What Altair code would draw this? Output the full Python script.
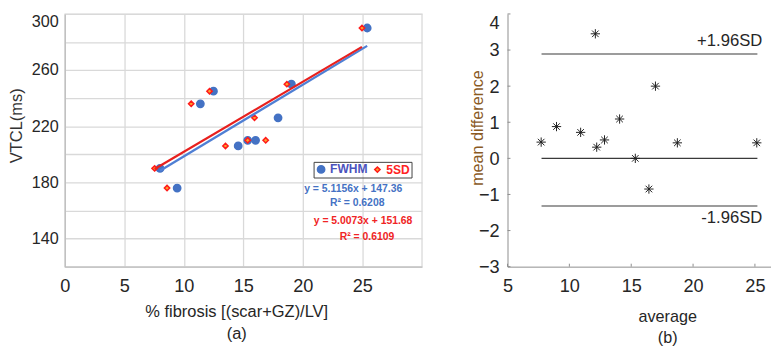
import altair as alt
import pandas as pd

FONT = "Liberation Sans"
BLUE = "#4472C4"
RED = "#FF1A1A"
ORANGE = "#FFA02A"
DARK = "#262626"
BROWN = "#8A5A1F"

# ---- panel (a) data ----
series = ["FWHM", "5SD"]
fwhm_x = [8.0, 9.44, 11.39, 12.49, 14.57, 15.37, 16.03, 17.92, 19.04, 25.41]
fwhm_y = [190, 176, 236, 245, 206, 210, 210, 226, 250, 290]
sd5_x = [7.55, 8.59, 10.62, 12.16, 13.50, 15.37, 15.94, 16.88, 18.66, 24.97]
sd5_y = [190, 176, 236, 245, 206, 210, 226, 210, 250, 290]
eq_fwhm = ["y = 5.1156x + 147.36", "R² = 0.6208"]
eq_5sd = ["y = 5.0073x + 151.68", "R² = 0.6109"]
xa_ticks = [0, 5, 10, 15, 20, 25]
ya_ticks = [120, 140, 160, 180, 200, 220, 240, 260, 280, 300]

# ---- panel (b) data ----
ba_avg = [7.72, 8.96, 10.91, 12.10, 12.21, 12.84, 14.06, 15.33, 16.43, 16.96, 18.73, 25.15]
ba_diff = [0.45, 0.88, 0.72, 3.45, 0.31, 0.51, 1.09, 0.0, -0.85, 2.0, 0.43, 0.43]
sd_levels = [2.89, 0.0, -1.32]
sd_labels = ["+1.96SD", "", "-1.96SD"]
sd_x_extent = [7.75, 25.2]
xb_ticks = [5, 10, 15, 20, 25]
yb_ticks = [-3, -2, -1, 0, 1, 2, 3, 4]

pts = pd.DataFrame({
    "x": fwhm_x + sd5_x,
    "y": fwhm_y + sd5_y,
    "series": [series[0]] * len(fwhm_x) + [series[1]] * len(sd5_x),
})

H = 258

xs = alt.Scale(domain=[0, 30], nice=False)
ys = alt.Scale(domain=[120, 300], nice=False)

xaxis_a = alt.Axis(
    values=xa_ticks, title=["% fibrosis [(scar+GZ)/LV]", "(a)"], titleX=175,
    titleFont=FONT, titleFontSize=16.8, titleFontWeight="normal", titleColor=DARK,
    titlePadding=9.5, titleLineHeight=22.4,
    labelFont=FONT, labelFontSize=18.5, labelColor=DARK, labelPadding=10,
    ticks=False, domainColor="#bfbfbf", domainWidth=1.3,
    grid=True, gridColor="#d9d9d9", gridWidth=1.3, labelFlush=False,
)
yaxis_a = alt.Axis(
    values=ya_ticks, labelExpr="datum.value % 40 == 20 ? datum.label : ''",
    title="VTCL(ms)", titleY=113.7,
    titleFont=FONT, titleFontSize=16.8, titleFontWeight="normal", titleColor="#333333",
    titlePadding=6,
    labelFont=FONT, labelFontSize=16.5, labelColor=DARK, labelPadding=6.7,
    labelBaseline={"condition": {"test": "datum.value == 300", "value": "top"}, "value": "middle"},
    ticks=False, domainColor="#bfbfbf", domainWidth=1.3,
    grid=True, gridColor="#d9d9d9", gridWidth=1.3, labelFlush=False,
)

leg = alt.Legend(
    title=None, orient="none", legendX=254, legendY=151, direction="horizontal",
    strokeColor="#404040", padding=1.5,
    labelFont=FONT, labelFontSize=12.3, labelFontWeight="bold",
    labelColor={"expr": "datum.label == 'FWHM' ? '#4b52bd' : '#ff2424'"},
    labelOffset=3, columnPadding=3.5, symbolStrokeWidth=1.5, symbolOpacity=1,
)

base_a = alt.Chart(pts)
points = base_a.mark_point(opacity=1, strokeWidth=1.5).encode(
    x=alt.X("x:Q", scale=xs, axis=xaxis_a),
    y=alt.Y("y:Q", scale=ys, axis=yaxis_a),
    shape=alt.Shape("series:N", scale=alt.Scale(domain=series, range=["circle", "diamond"]), legend=leg),
    fill=alt.Fill("series:N", scale=alt.Scale(domain=series, range=[BLUE, ORANGE]), legend=leg),
    stroke=alt.Stroke("series:N", scale=alt.Scale(domain=series, range=[BLUE, RED]), legend=leg),
    size=alt.Size("series:N", scale=alt.Scale(domain=series, range=[56, 30]), legend=leg),
)

def reg_line(name, color):
    return (
        base_a.transform_filter(alt.datum.series == name)
        .transform_regression("x", "y")
        .mark_line(color=color, strokeWidth=2.3)
        .encode(x=alt.X("x:Q", scale=xs, axis=xaxis_a), y=alt.Y("y:Q", scale=ys, axis=yaxis_a))
    )

def label_text(txt, color, px, py):
    return alt.Chart(pd.DataFrame({"t": [txt]})).mark_text(
        font=FONT, fontSize=10.6, fontWeight="bold", color=color, align="center", baseline="middle"
    ).encode(text="t:N", x=alt.value(px), y=alt.value(py))

left = alt.layer(
    points,
    reg_line("FWHM", "#4f7fd4"),
    reg_line("5SD", "#E8201E"),
    label_text(eq_fwhm[0], BLUE, 294.5, 178.6),
    label_text(eq_fwhm[1], BLUE, 298.5, 193.2),
    label_text(eq_5sd[0], "#F02424", 304.5, 211.6),
    label_text(eq_5sd[1], "#F02424", 308.5, 228.0),
).properties(width=364.5, height=H, view=alt.ViewBackground(stroke="#d9d9d9", strokeWidth=1.3))

# ---- panel (b) ----
ba = pd.DataFrame({"avg": ba_avg, "diff": ba_diff})
sd = pd.DataFrame({
    "diff": sd_levels,
    "avg": [sd_x_extent[0]] * len(sd_levels),
    "avg2": [sd_x_extent[1]] * len(sd_levels),
    "label": sd_labels,
})
AX = "#8c8c8c"
xr = alt.Scale(domain=[5, 26.3], nice=False)
yr = alt.Scale(domain=[-3, 4], nice=False)
xaxis_b = alt.Axis(
    values=xb_ticks, title=["average", "(b)"], titleX=163,
    titleFont=FONT, titleFontSize=16.5, titleFontWeight="normal", titleColor=DARK,
    titlePadding=14, titleLineHeight=22,
    labelFont=FONT, labelFontSize=18.5, labelColor=DARK, labelPadding=10,
    ticks=False, grid=False, domainColor=AX, domainWidth=1, labelFlush=False,
)
yaxis_b = alt.Axis(
    values=yb_ticks, title="mean difference", titleY=116,
    titleFont=FONT, titleFontSize=16.5, titleFontWeight="normal", titleColor=BROWN,
    titlePadding=-7,
    labelFont=FONT, labelFontSize=18.5, labelColor=DARK, labelPadding=8.5,
    labelBaseline={"condition": {"test": "datum.value == 4", "value": "top"}, "value": "middle"},
    ticks=False, grid=False, domainColor=AX, domainWidth=1, labelFlush=False,
)
ASTERISK = "M-1,0L1,0M0,-1L0,1M-0.707,-0.707L0.707,0.707M-0.707,0.707L0.707,-0.707"

X_b = alt.X("avg:Q", scale=xr, axis=xaxis_b)
Y_b = alt.Y("diff:Q", scale=yr, axis=yaxis_b)

rules = alt.Chart(sd).mark_rule(color="#3a3a3a", strokeWidth=1.1).encode(x=X_b, x2="avg2:Q", y=Y_b)
upper = alt.Chart(sd).transform_filter("datum.diff > 0").mark_text(
    font=FONT, fontSize=17, color=DARK, align="right", baseline="middle", dx=5, dy=-13.5
).encode(x=alt.X("avg2:Q", scale=xr, axis=xaxis_b), y=Y_b, text="label:N")
lower = alt.Chart(sd).transform_filter("datum.diff < 0").mark_text(
    font=FONT, fontSize=17, color=DARK, align="right", baseline="middle", dx=5, dy=12.5
).encode(x=alt.X("avg2:Q", scale=xr, axis=xaxis_b), y=Y_b, text="label:N")
stars = alt.Chart(ba).mark_point(
    shape=ASTERISK, filled=False, stroke="#1f1f1f", strokeWidth=1, size=90, opacity=1
).encode(x=X_b, y=Y_b)
xt = alt.Chart(pd.DataFrame({"avg": xb_ticks})).mark_rule(color=AX, strokeWidth=1).encode(
    x=X_b, y=alt.value(H), y2=alt.value(H - 3))
yt = alt.Chart(pd.DataFrame({"diff": yb_ticks})).mark_rule(color=AX, strokeWidth=1).encode(
    y=Y_b, x=alt.value(0), x2=alt.value(3))

right = alt.layer(rules, upper, lower, stars, xt, yt).properties(
    width=269, height=H, view=alt.ViewBackground(stroke=None)
)

chart = alt.hconcat(left, right, spacing=47).properties(
    padding={"left": 0, "top": 1.5, "right": 0, "bottom": 0}
).configure(background="white")

chart.save("out.html", embed_options={"renderer": "svg", "actions": False})
